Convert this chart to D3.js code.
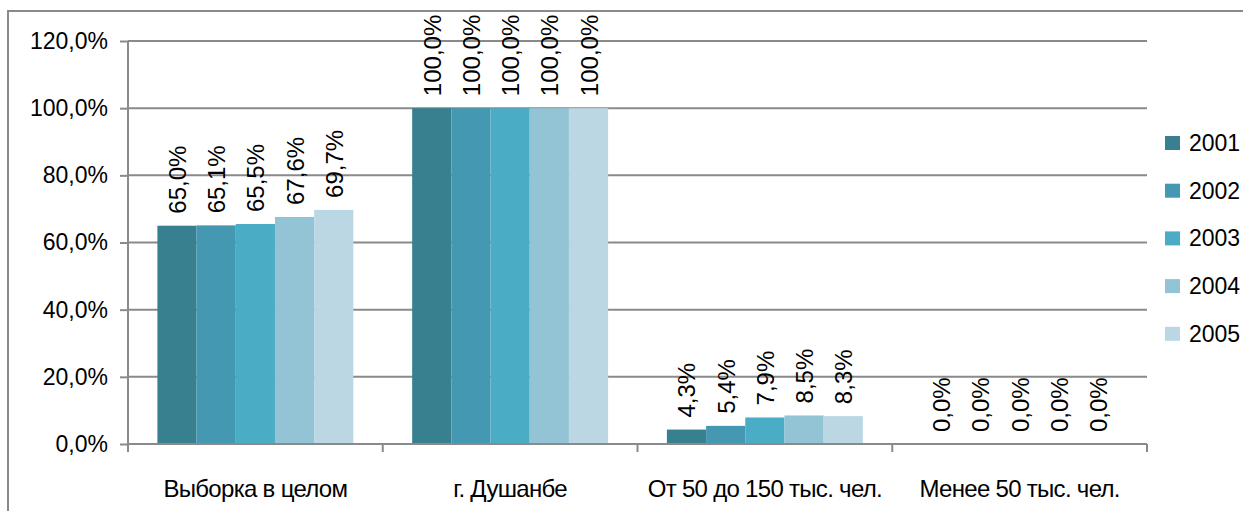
<!DOCTYPE html>
<html>
<head>
<meta charset="utf-8">
<script src="https://cdn.jsdelivr.net/npm/d3@7"></script>
<style>
  html, body { margin: 0; padding: 0; background: #ffffff; }
  svg { display: block; font-family: "Liberation Sans", Arial, sans-serif; }
</style>
</head>
<body>
<svg id="chart" width="1243" height="511"></svg>
<script>
// Share of settlements by group and year
const categories = ["Выборка в целом", "г. Душанбе", "От 50 до 150 тыс. чел.", "Менее 50 тыс. чел."];
const years = ["2001", "2002", "2003", "2004", "2005"];
const values2001 = [65.0, 100.0, 4.3, 0.0];
const values2002 = [65.1, 100.0, 5.4, 0.0];
const values2003 = [65.5, 100.0, 7.9, 0.0];
const values2004 = [67.6, 100.0, 8.5, 0.0];
const values2005 = [69.7, 100.0, 8.3, 0.0];
const yTicks = [0, 20, 40, 60, 80, 100, 120];
const colors = ["#38808f", "#4498b1", "#4bacc6", "#93c4d5", "#bad7e3"];

const series = [values2001, values2002, values2003, values2004, values2005];

const svg = d3.select("#chart");
const plot = { left: 128, right: 1147, top: 41, bottom: 444 };
const gridColor = "#8a8a8a";
const fmt = v => v.toFixed(1).replace(".", ",") + "%";

// outer chart frame
svg.append("rect")
  .attr("x", 8).attr("y", 11)
  .attr("width", 1260).attr("height", 520)
  .attr("fill", "none").attr("stroke", gridColor).attr("stroke-width", 2);

const y = d3.scaleLinear().domain([0, 120]).range([plot.bottom, plot.top]);
const x0 = d3.scaleBand().domain(categories).range([plot.left, plot.right]).padding(0);
const side = x0.bandwidth() * 0.75 / 6.5;
const x1 = d3.scaleBand().domain(years).range([side, x0.bandwidth() - side]).padding(0);

// horizontal gridlines
svg.append("g")
  .selectAll("line")
  .data(yTicks.filter(t => t > 0))
  .join("line")
  .attr("x1", plot.left).attr("x2", plot.right)
  .attr("y1", d => y(d)).attr("y2", d => y(d))
  .attr("stroke", gridColor).attr("stroke-width", 2);

// y axis
const yAxis = svg.append("g")
  .attr("transform", `translate(${plot.left},0)`)
  .call(d3.axisLeft(y).tickValues(yTicks).tickFormat(fmt).tickSize(8).tickPadding(12));
yAxis.select(".domain").attr("stroke", gridColor).attr("stroke-width", 2)
  .attr("d", `M0,${plot.bottom}V${plot.top}`);
yAxis.selectAll(".tick line").attr("stroke", gridColor).attr("stroke-width", 2);
yAxis.selectAll(".tick text")
  .attr("font-size", 23).attr("fill", "#000")
  .attr("font-family", "Liberation Sans, Arial, sans-serif");

// bars
const groups = svg.append("g")
  .selectAll("g")
  .data(categories)
  .join("g")
  .attr("transform", d => `translate(${x0(d)},0)`);

groups.selectAll("rect")
  .data((c, ci) => years.map((yr, si) => ({ yr, si, v: series[si][ci] })))
  .join("rect")
  .attr("x", d => x1(d.yr))
  .attr("width", x1.bandwidth())
  .attr("y", d => y(d.v))
  .attr("height", d => y(0) - y(d.v))
  .attr("fill", d => colors[d.si]);

// rotated value labels
groups.selectAll("text")
  .data((c, ci) => years.map((yr, si) => ({ yr, si, v: series[si][ci] })))
  .join("text")
  .attr("transform", d => `translate(${x1(d.yr) + x1.bandwidth() / 2 + 9},${y(d.v) - 12}) rotate(-90)`)
  .attr("text-anchor", "start")
  .attr("font-size", 24)
  .attr("fill", "#000")
  .text(d => fmt(d.v));

// x axis
const xAxis = svg.append("g")
  .attr("transform", `translate(0,${plot.bottom})`);
xAxis.append("line")
  .attr("x1", plot.left).attr("x2", plot.right)
  .attr("y1", 0).attr("y2", 0)
  .attr("stroke", gridColor).attr("stroke-width", 2);
xAxis.selectAll("line.tick")
  .data(categories.map(c => x0(c)).concat([plot.right]))
  .join("line")
  .attr("class", "tick")
  .attr("x1", d => d).attr("x2", d => d)
  .attr("y1", 0).attr("y2", 8)
  .attr("stroke", gridColor).attr("stroke-width", 2);
xAxis.selectAll("text")
  .data(categories)
  .join("text")
  .attr("x", d => x0(d) + x0.bandwidth() / 2)
  .attr("y", 53)
  .attr("text-anchor", "middle")
  .attr("font-size", 24)
  .attr("letter-spacing", "-0.7px")
  .attr("fill", "#000")
  .text(d => d);

// legend
const legend = svg.append("g")
  .selectAll("g")
  .data(years)
  .join("g")
  .attr("transform", (d, i) => `translate(1165,${143 + i * 47.7})`);
legend.append("rect")
  .attr("x", 0).attr("y", -7)
  .attr("width", 15).attr("height", 14)
  .attr("fill", (d, i) => colors[i]);
legend.append("text")
  .attr("x", 24).attr("y", 8)
  .attr("font-size", 23)
  .attr("fill", "#000")
  .text(d => d);
</script>
</body>
</html>
